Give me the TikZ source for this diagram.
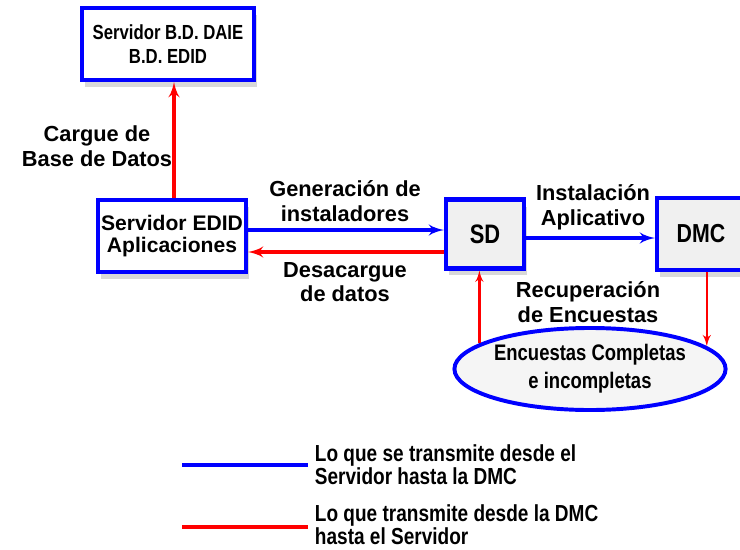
\documentclass[tikz,border=0pt]{standalone}
\usepackage{fontspec}
\setmainfont{Liberation Sans}
\newfontfamily\narrowfont[FakeStretch=0.82]{Liberation Sans}
\usetikzlibrary{arrows,shapes.geometric,shadows}
\begin{document}
\begin{tikzpicture}[x=0.025cm,y=-0.025cm]
    \tikzset{box/.style = {shape=rectangle,draw=blue,line width=3pt,fill=white,align=center,inner sep=0pt,
        drop shadow={fill=black!30,shadow xshift=2pt,shadow yshift=-5pt}}}
    \tikzset{txt/.style = {align=center,font=\bfseries\fontsize{15.5}{17.5}\selectfont}}
    \tikzset{sendline/.style = {->,> = latex',draw=blue,line width=2.7pt}}
    \tikzset{backline/.style = {->,> = latex',draw=red,line width=2.7pt}}
    \path[use as bounding box,fill=white] (0,0) rectangle (740,550);
    \node[box,minimum width=4.3cm,minimum height=1.8cm,font=\narrowfont\bfseries\fontsize{14.5}{17.5}\selectfont] (db) at (168,44) {Servidor B.D. DAIE\\B.D. EDID};
    \node[box,minimum width=3.7cm,minimum height=1.8cm,font=\bfseries\fontsize{15}{16}\selectfont] (edid) at (172,236) {Servidor EDID\\Aplicaciones};
    \node[box,fill=gray!12,minimum width=1.95cm,minimum height=1.72cm,font=\narrowfont\bfseries\fontsize{19}{20}\selectfont] (sd) at (485,234) {SD};
    \node[box,fill=gray!12,minimum width=2.2cm,minimum height=1.8cm,font=\narrowfont\bfseries\fontsize{18.5}{20}\selectfont] (dmc) at (701,234) {DMC};
    \node[shape=ellipse,draw=blue,line width=2.8pt,fill=gray!8,inner sep=0pt,minimum width=5.85cm,minimum height=2.05cm,align=center,
        font=\narrowfont\bfseries\fontsize{16}{20}\selectfont] (enc) at (590,369) {Encuestas Completas\\e incompletas};
    % etiquetas
    \node[txt] (cargue) at (97,146) {Cargue de\\Base de Datos};
    \node[txt] (gen) at (345,201) {Generación de\\instaladores};
    \node[txt] (desc) at (345,282) {Desacargue\\de datos};
    \node[txt] (inst) at (593,207) {Instalación\\Aplicativo};
    \node[txt] (recup) at (588,302) {Recuperación\\de Encuestas};
    % flechas
    \draw[backline] (edid.north -| 174,0) to (db.south -| 174,0);
    \draw[sendline] (edid.east |- 0,230) to (sd.west |- 0,230);
    \draw[backline] (sd.west |- 0,252) to (edid.east |- 0,252);
    \draw[sendline] (sd.east |- 0,238) to (dmc.west |- 0,238);
    \draw[backline,line width=1.8pt] (dmc.south -| enc.11) to (enc.11);
    \draw[backline,line width=1.8pt] (enc.167) to (enc.167 |- sd.south);
    % leyenda
    \coordinate (b1) at (182,465);
    \coordinate (b2) at (308,465);
    \coordinate (r1) at (182,527);
    \coordinate (r2) at (308,527);
    \draw[blue,line width=2.6pt] (b1) to (b2);
    \draw[red,line width=2.6pt] (r1) to (r2);
    \node[anchor=west,align=left,font=\narrowfont\bfseries\fontsize{16.5}{16.5}\selectfont] (ltb) at (310,465) {Lo que se transmite desde el\\Servidor hasta la DMC};
    \node[anchor=west,align=left,font=\narrowfont\bfseries\fontsize{16.5}{16.5}\selectfont] (ltr) at (310,525) {Lo que transmite desde la DMC\\hasta el Servidor};
\end{tikzpicture}
\end{document}
